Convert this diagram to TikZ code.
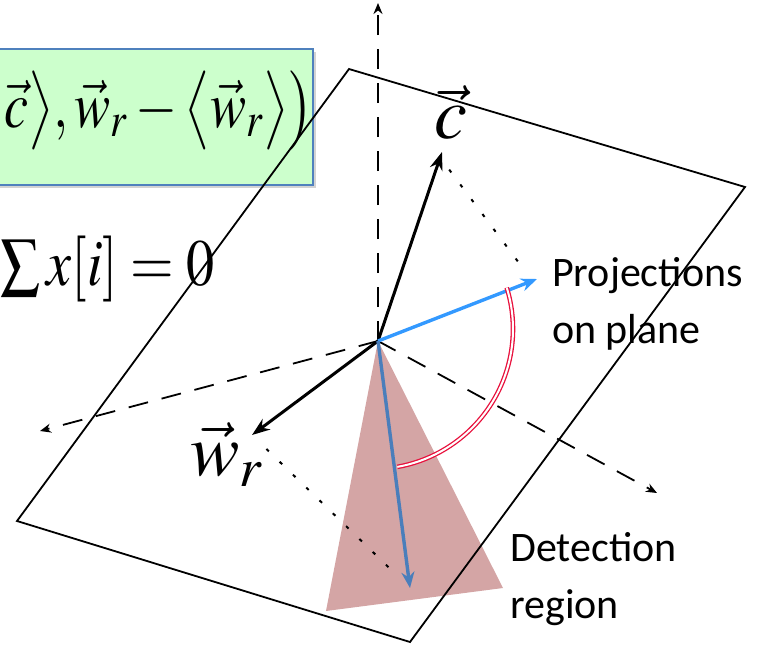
\documentclass[tikz,border=0pt]{standalone}
\usepackage{mathptmx}
\usepackage[no-math]{fontspec}
\newfontfamily\labelfont{Carlito}
\usetikzlibrary{arrows.meta, shadows}

\definecolor{boxgreen}{RGB}{204,255,204}
\definecolor{boxblue}{RGB}{79,129,189}
\definecolor{projblue}{RGB}{51,153,255}
\definecolor{detblue}{RGB}{74,126,187}
\definecolor{regionpink}{RGB}{212,165,165}
\definecolor{anglered}{RGB}{232,16,60}

\begin{document}
\begin{tikzpicture}[
    x=1pt, y=-1pt,
    every node/.style={inner sep=0pt},
    formbox/.style={draw=boxblue, line width=1.8pt, fill=boxgreen,
      drop shadow={shadow xshift=3pt, shadow yshift=-3pt, opacity=0.35}},
    bigmath/.style={font=\fontsize{66}{70}\selectfont},
    veclab/.style={font=\fontsize{74}{78}\selectfont},
    textlab/.style={font=\labelfont\fontsize{42}{57}\selectfont, align=left},
    plane/.style={line width=1.8pt, line join=miter},
    axis/.style={-{Stealth[length=11pt, width=9pt]}, line width=1.8pt, dash pattern=on 20pt off 14pt},
    vec/.style={-{Stealth[length=18pt, width=13pt]}, line width=3pt},
    projvec/.style={-{Stealth[length=16pt, width=13pt]}, line width=3.4pt},
    guide/.style={line width=2pt, dash pattern=on 3.5pt off 15pt},
    anglearc/.style={draw=anglered, double=white, line width=1.3pt, double distance=2pt},
    ]
  \clip (0,0) rectangle (779,649);

  % formula box, cut by the left border
  \node[formbox, minimum width=330pt, minimum height=136pt] (box) at (148,117) {};
  \node[bigmath, anchor=base west] (f1) at (4,127)
    {\scalebox{0.82}[1]{$\vec{c}\big\rangle,\vec{w}_r-\big\langle\vec{w}_r\big\rangle\big)$}};
  \node[bigmath, anchor=base west] (f2) at (0,285)
    {\scalebox{0.85}[1]{$\sum x[i]=0$}};

  % points
  \coordinate (O) at (378,341);
  \coordinate (p1) at (349,69);
  \coordinate (p2) at (745,187);
  \coordinate (p3) at (410,642);
  \coordinate (p4) at (17,521);
  \coordinate (ztip) at (378,3);
  \coordinate (xtip) at (40,431);
  \coordinate (ytip) at (657,493);
  \coordinate (ctip) at (442,152);
  \coordinate (wtip) at (252,435);
  \coordinate (pc) at (537,279);
  \coordinate (pw) at (410,588);
  \coordinate (r1) at (326,611);
  \coordinate (r2) at (503,588);
  \coordinate (arcC) at (373,329);

  % detection region
  \fill[regionpink] (O) -- (r1) -- (r2) -- cycle;

  % plane
  \draw[plane] (p1) -- (p2) -- (p3) -- (p4) -- cycle;

  % axes
  \draw[axis] (O) -- (ztip);
  \draw[axis] (O) -- (xtip);
  \draw[axis] (O) -- (ytip);

  % projection guides
  \draw[guide, shorten <=22pt, shorten >=10pt] ([xshift=-6pt]ctip) -- ([xshift=-6pt]pc);
  \draw[guide, shorten <=20pt, shorten >=24pt] (wtip) -- (pw);

  % vectors
  \draw[vec] (O) -- (ctip);
  \draw[vec] (O) -- (wtip);
  \draw[projvec, projblue] (O) -- (pc);
  \draw[projvec, detblue] (O) -- (pw);

  % angle between projections
  \draw[anglearc] (arcC) ++(-17.2:140) arc[start angle=-17.2, end angle=80, radius=140];

  % labels
  \node[veclab, anchor=base] (clab) at (451,138) {$\vec{c}$};
  \node[veclab, anchor=base west] (wlab) at (190,475) {$\vec{w}_r$};
  \node[textlab, anchor=base west] (plab) at (552,343) {Projections\\on plane};
  \node[textlab, anchor=base west] (dlab) at (510,618) {Detection\\region};
\end{tikzpicture}
\end{document}
